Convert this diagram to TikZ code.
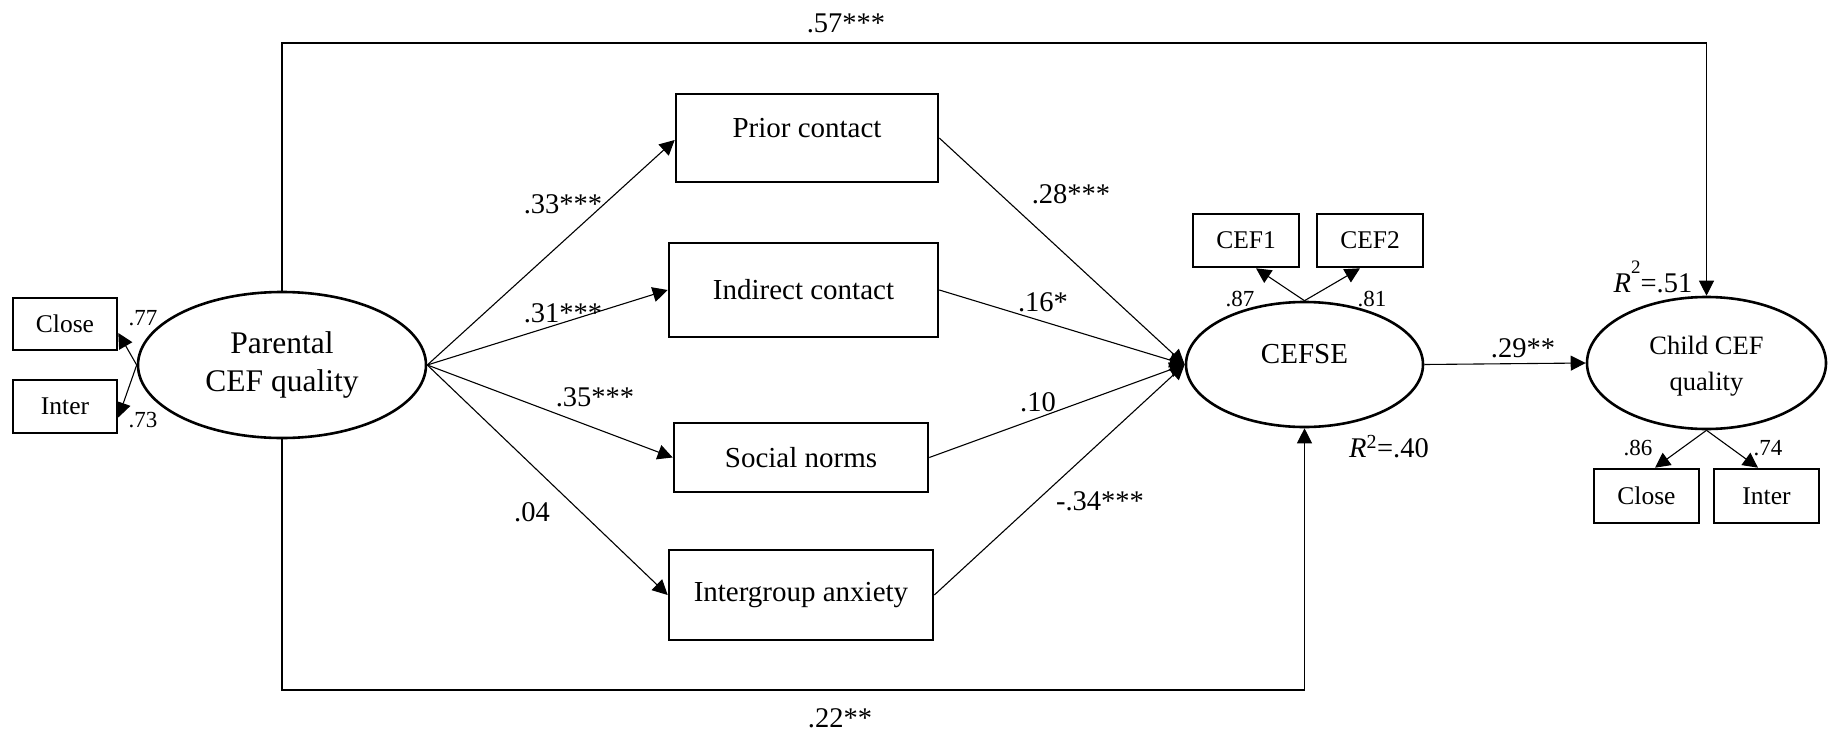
\documentclass[tikz,border=0pt]{standalone}
\usepackage{fontspec}
\setmainfont{Liberation Serif}
\usetikzlibrary{arrows.meta,shapes.geometric}
\tikzset{
  box/.style={draw, line width=2.6pt, rectangle, inner sep=0pt, font=\fontsize{25.5}{30}\selectfont},
  medbox/.style={box, font=\fontsize{29}{34}\selectfont},
  lat/.style={draw, line width=2.6pt, ellipse, inner sep=0pt, align=center},
  arr/.style={line width=1.1pt, -{Triangle[length=15pt,width=15pt]}},
  coef/.style={font=\fontsize{28.5}{32}\selectfont, inner sep=0pt},
  small/.style={font=\fontsize{23}{26}\selectfont, inner sep=0pt},
}
\begin{document}
\begin{tikzpicture}[x=1pt,y=-1pt]
\useasboundingbox (0,0) rectangle (1832,731);
% latent variables
\node[lat, minimum width=288pt, minimum height=146pt, font=\fontsize{31.5}{38}\selectfont] (par) at (282,365) {Parental\\CEF quality};
\node[lat, minimum width=237pt, minimum height=125pt, font=\fontsize{29}{34}\selectfont] (cefse) at (1304.5,364.5) {\raisebox{10pt}[\height][\depth]{CEFSE}};
\node[lat, minimum width=239pt, minimum height=132pt, font=\fontsize{26.5}{36}\selectfont] (child) at (1706.5,363) {\raisebox{-3pt}[\height][\depth]{Child CEF}\\\raisebox{-3pt}[\height][\depth]{quality}};
% indicators
\node[box, minimum width=104pt, minimum height=52pt] (closeL) at (65,324) {Close};
\node[box, minimum width=104pt, minimum height=53pt] (interL) at (65,406.5) {Inter};
\node[box, minimum width=106pt, minimum height=53pt] (cef1) at (1246,240.5) {CEF1};
\node[box, minimum width=106pt, minimum height=53pt] (cef2) at (1370,240.5) {CEF2};
\node[box, minimum width=105pt, minimum height=54pt] (closeR) at (1646.5,496) {Close};
\node[box, minimum width=105pt, minimum height=54pt] (interR) at (1766.5,496) {Inter};
% mediators
\node[medbox, minimum width=262pt, minimum height=88pt] (prior) at (807,138) {\raisebox{10pt}[\height][\depth]{Prior contact}};
\node[medbox, minimum width=269pt, minimum height=94pt] (indirect) at (803.5,290) {Indirect contact};
\node[medbox, minimum width=254pt, minimum height=69pt] (social) at (801,457.5) {Social norms};
\node[medbox, minimum width=264pt, minimum height=90pt] (anx) at (801,595) {Intergroup anxiety};
% helper coordinates
\coordinate (topy) at (0,43);
\coordinate (boty) at (0,690);
% measurement arrows
\draw[arr] (par.west) -- ([yshift=-9pt]closeL.east);
\draw[arr] (par.west) -- ([yshift=-11pt]interL.east);
\draw[arr] (cefse.north) -- ([xshift=10pt]cef1.south);
\draw[arr] (cefse.north) -- ([xshift=-10pt]cef2.south);
\draw[arr] (child.south) -- ([xshift=8.5pt]closeR.north);
\draw[arr] (child.south) -- ([xshift=-8.5pt]interR.north);
% structural paths
\draw[arr] (par.east) -- ([yshift=-2pt]prior.west);
\draw[arr] (par.east) -- (indirect.west);
\draw[arr] (par.east) -- (social.west);
\draw[arr] (par.east) -- (anx.west);
\draw[arr] (prior.east) -- (cefse.west);
\draw[arr] (indirect.east) -- (cefse.west);
\draw[arr] (social.east) -- (cefse.west);
\draw[arr] (anx.east) -- (cefse.west);
\draw[arr] (cefse.east) -- (child.west);
\draw[arr] (par.north) |- (topy -| child.north) -- (child.north);
\draw[arr] (par.south) |- (boty -| cefse.south) -- (cefse.south);
% loadings
\node[small] (l77) at (143,318) {.77};
\node[small] (l73) at (143,420) {.73};
\node[small] (l87) at (1240,299) {.87};
\node[small] (l81) at (1372,299) {.81};
\node[small] (l86) at (1638,448) {.86};
\node[small] (l74) at (1768,448) {.74};
% R squared
\node[coef, anchor=base] (r51) at (1653,292) {\textit{R}\raisebox{19pt}{\fontsize{19}{20}\selectfont 2}=.51};
\node[coef] (r40) at (1389,447) {\textit{R}\textsuperscript{2}=.40};
% path coefficients
\node[coef] (c57) at (846,23) {.57***};
\node[coef] (c22) at (840,718) {.22**};
\node[coef] (c33) at (563,204) {.33***};
\node[coef] (c31) at (563,313) {.31***};
\node[coef] (c35) at (595,397) {.35***};
\node[coef] (c04) at (532,512) {.04};
\node[coef] (c28) at (1071,194) {.28***};
\node[coef] (c16) at (1043,302) {.16*};
\node[coef] (c10) at (1038,402) {.10};
\node[coef] (c34) at (1100,501) {-.34***};
\node[coef] (c29) at (1523,348) {.29**};
\end{tikzpicture}
\end{document}
